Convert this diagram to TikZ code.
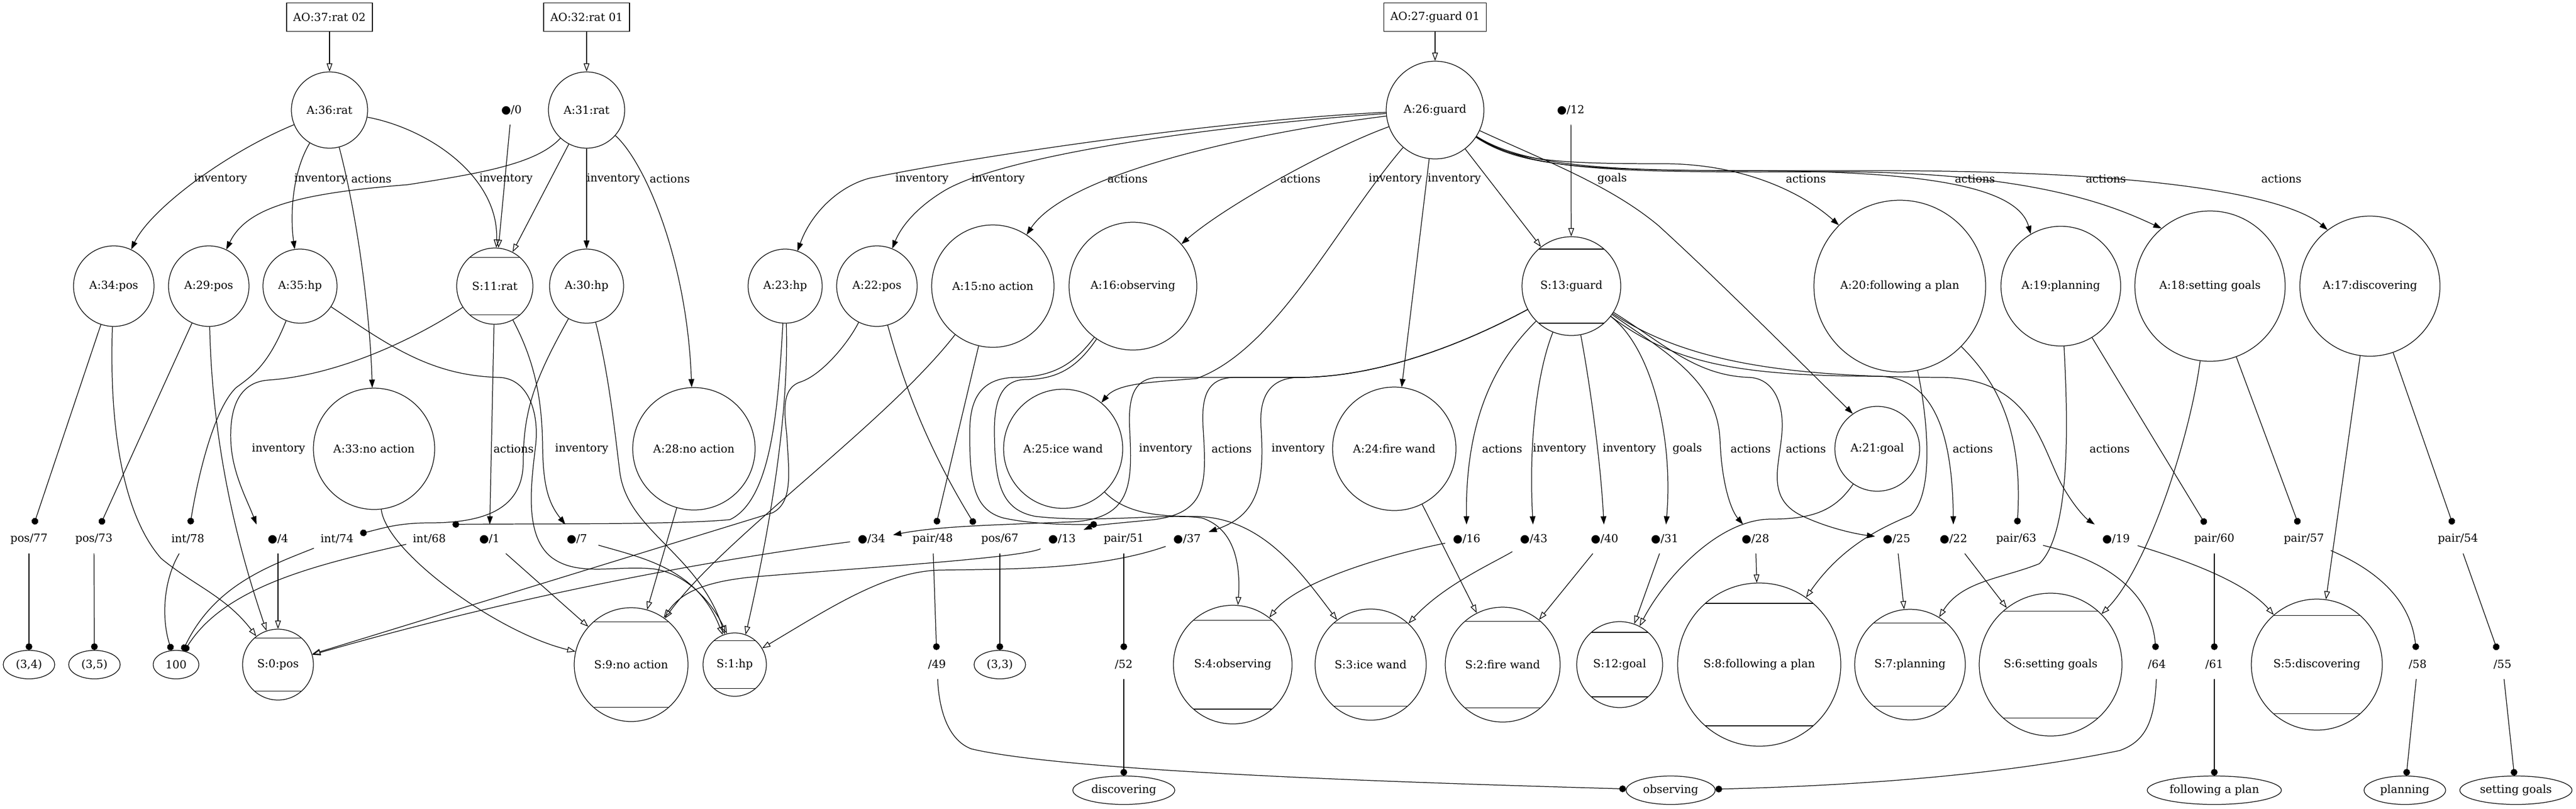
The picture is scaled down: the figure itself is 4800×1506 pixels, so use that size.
\documentclass[tikz,border=0pt]{standalone}
\usepackage{fontspec}
\setmainfont{DejaVu Serif}
\newfontfamily\dvsans{DejaVu Sans}
\usetikzlibrary{arrows.meta,shapes.geometric,calc}
\newcommand{\blkdot}{{\dvsans ●}}
\begin{document}
\begin{tikzpicture}[x=0.5pt,y=-0.5pt,line width=0.62pt,
  every node/.style={font=\fontsize{10.3pt}{12pt}\selectfont, inner sep=0pt},
  cn/.style={draw, circle},
  mc/.style={draw, circle, path picture={
    \draw[line width=0.62pt] ($(path picture bounding box.north west)!0.125!(path picture bounding box.south west)$) -- ($(path picture bounding box.north east)!0.125!(path picture bounding box.south east)$);
    \draw[line width=0.62pt] ($(path picture bounding box.north west)!0.875!(path picture bounding box.south west)$) -- ($(path picture bounding box.north east)!0.875!(path picture bounding box.south east)$);}},
  el/.style={draw, ellipse, minimum height=26.5pt},
  ptx/.style={rectangle, minimum width=39.5pt, minimum height=26.5pt, inner xsep=5.9pt},
  bx/.style={draw, rectangle, minimum height=26.5pt},
  fa/.style={-{Triangle[length=7.6pt,width=5.3pt]}},
  oa/.style={-{Triangle[open,length=7.6pt,width=5.3pt]}},
  da/.style={-{Circle[length=6.3pt]}}
]
\useasboundingbox (0,0) rectangle (4800,1506);
% ---------- row 0
\node[bx, minimum width=80pt] (AO37) at (614,32) {AO:37:rat 02};
\node[bx, minimum width=80pt] (AO32) at (1093,32) {AO:32:rat 01};
\node[bx, minimum width=95.5pt] (AO27) at (2674,32) {AO:27:guard 01};
% ---------- row 1
\node[cn, minimum size=71pt] (A36) at (614,205) {A:36:rat};
\node[cn, minimum size=71pt] (A31) at (1093,205) {A:31:rat};
\node[cn, minimum size=91pt] (A26) at (2674,205) {A:26:guard};
\node[ptx] (d0) at (953,205) {\blkdot/0};
\node[ptx] (d12) at (2927,205) {\blkdot/12};
% ---------- row 2
\node[cn, minimum size=75pt] (A34) at (212,533) {A:34:pos};
\node[cn, minimum size=75pt] (A29) at (389,533) {A:29:pos};
\node[cn, minimum size=69pt] (A35) at (559,533) {A:35:hp};
\node[mc, minimum size=71pt] (S11) at (922,533) {S:11:rat};
\node[cn, minimum size=69pt] (A30) at (1093,533) {A:30:hp};
\node[cn, minimum size=69pt] (A23) at (1463,533) {A:23:hp};
\node[cn, minimum size=75pt] (A22) at (1634,533) {A:22:pos};
\node[cn, minimum size=114pt] (A15) at (1850,533) {A:15:no action};
\node[cn, minimum size=119pt] (A16) at (2111,533) {A:16:observing};
\node[mc, minimum size=92pt] (S13) at (2928,533) {S:13:guard};
\node[cn, minimum size=160pt] (A20) at (3540,533) {A:20:following a plan};
\node[cn, minimum size=111.5pt] (A19) at (3840,533) {A:19:planning};
\node[cn, minimum size=140pt] (A18) at (4118,533) {A:18:setting goals};
\node[cn, minimum size=130.5pt] (A17) at (4416,533) {A:17:discovering};
% ---------- row 3
\node[cn, minimum size=113pt] (A33) at (697,836) {A:33:no action};
\node[cn, minimum size=114pt] (A28) at (1293,836) {A:28:no action};
\node[cn, minimum size=111pt] (A25) at (1981,836) {A:25:ice wand};
\node[cn, minimum size=115pt] (A24) at (2598,836) {A:24:fire wand};
\node[cn, minimum size=79pt] (A21) at (3498,836) {A:21:goal};
% ---------- row 4
\node[ptx] (p77) at (54,1004) {pos/77};
\node[ptx] (p73) at (175,1004) {pos/73};
\node[ptx] (i78) at (350,1004) {int/78};
\node[ptx] (d4) at (518,1004) {\blkdot/4};
\node[ptx] (i74) at (628,1004) {int/74};
\node[ptx] (i68) at (800,1004) {int/68};
\node[ptx] (d1) at (912,1004) {\blkdot/1};
\node[ptx] (d7) at (1075,1004) {\blkdot/7};
\node[ptx] (d34) at (1624,1004) {\blkdot/34};
\node[ptx] (pr48) at (1738,1004) {pair/48};
\node[ptx] (p67) at (1863,1004) {pos/67};
\node[ptx] (d13) at (1979,1004) {\blkdot/13};
\node[ptx] (pr51) at (2094,1004) {pair/51};
\node[ptx] (d37) at (2212,1004) {\blkdot/37};
\node[ptx] (d16) at (2733,1004) {\blkdot/16};
\node[ptx] (d43) at (2858,1004) {\blkdot/43};
\node[ptx] (d40) at (2990,1004) {\blkdot/40};
\node[ptx] (d31) at (3102,1004) {\blkdot/31};
\node[ptx] (d28) at (3271,1004) {\blkdot/28};
\node[ptx] (d25) at (3534,1004) {\blkdot/25};
\node[ptx] (d22) at (3640,1004) {\blkdot/22};
\node[ptx] (pr63) at (3757,1004) {pair/63};
\node[ptx] (d19) at (3943,1004) {\blkdot/19};
\node[ptx] (pr60) at (4126,1004) {pair/60};
\node[ptx] (pr57) at (4293,1004) {pair/57};
\node[ptx] (pr54) at (4580,1004) {pair/54};
% ---------- row 5
\node[el, minimum width=48pt] (v34) at (54,1238) {(3,4)};
\node[el, minimum width=48pt] (v35) at (176,1238) {(3,5)};
\node[el, minimum width=42.6pt] (v100) at (328,1238) {100};
\node[mc, minimum size=66pt] (S0) at (518,1238) {S:0:pos};
\node[mc, minimum size=106pt] (S9) at (1176,1238) {S:9:no action};
\node[mc, minimum size=59pt] (S1) at (1369,1238) {S:1:hp};
\node[ptx] (n49) at (1746,1238) {/49};
\node[el, minimum width=48pt] (v33) at (1863,1238) {(3,3)};
\node[ptx] (n52) at (2094,1238) {/52};
\node[mc, minimum size=110.5pt] (S4) at (2297,1238) {S:4:observing};
\node[mc, minimum size=103.5pt] (S3) at (2554,1238) {S:3:ice wand};
\node[mc, minimum size=107pt] (S2) at (2800,1238) {S:2:fire wand};
\node[mc, minimum size=80pt] (S12) at (3018,1238) {S:12:goal};
\node[mc, minimum size=152pt] (S8) at (3278,1238) {S:8:following a plan};
\node[mc, minimum size=103pt] (S7) at (3559,1238) {S:7:planning};
\node[mc, minimum size=133pt] (S6) at (3821,1238) {S:6:setting goals};
\node[ptx] (n64) at (4019,1238) {/64};
\node[ptx] (n61) at (4126,1238) {/61};
\node[mc, minimum size=122pt] (S5) at (4317,1238) {S:5:discovering};
\node[ptx] (n58) at (4505,1238) {/58};
\node[ptx] (n55) at (4663,1238) {/55};
% ---------- row 6
\node[el, minimum width=95pt] (disc) at (2094,1472) {discovering};
\node[el, minimum width=83pt] (obs) at (3113,1472) {observing};
\node[el, minimum width=125pt] (fap) at (4126,1472) {following a plan};
\node[el, minimum width=76pt] (plan) at (4481,1472) {planning};
\node[el, minimum width=104.5pt] (sg) at (4688,1472) {setting goals};
% ---------- edge labels
\node (la1) at (411,333) {inventory};
\node (la2) at (598,333) {inventory};
\node (la3) at (692,333) {actions};
\node (la4) at (943,333) {inventory};
\node (la5) at (1143,333) {inventory};
\node (la6) at (1248,333) {actions};
\node (la7) at (1718,333) {inventory};
\node (la8) at (1860,333) {inventory};
\node (la9) at (2101,333) {actions};
\node (la10) at (2423,333) {actions};
\node (la11) at (2600,333) {inventory};
\node (la12) at (2710,333) {inventory};
\node (la13) at (3004,333) {goals};
\node (la14) at (3365,333) {actions};
\node (la15) at (3680,333) {actions};
\node (la16) at (3924,333) {actions};
\node (la17) at (4251,333) {actions};
\node (lb1) at (519,836) {inventory};
\node (lb2) at (957,836) {actions};
\node (lb3) at (1084,836) {inventory};
\node (lb4) at (2172,836) {inventory};
\node (lb5) at (2295,836) {actions};
\node (lb6) at (2419,836) {inventory};
\node (lb7) at (2799,836) {actions};
\node (lb8) at (2906,836) {inventory};
\node (lb9) at (3036,836) {inventory};
\node (lb10) at (3144,836) {goals};
\node (lb11) at (3262,836) {actions};
\node (lb12) at (3365,836) {actions};
\node (lb13) at (3676,836) {actions};
\node (lb14) at (3931,836) {actions};
% ---------- edges: top
\draw[oa] (AO37) -- (A36);
\draw[oa] (AO32) -- (A31);
\draw[oa] (AO27) -- (A26);
% A36
\draw[fa] (A36) .. controls (420,285) and (280,390) .. (A34);
\draw[fa] (A36) .. controls (545,320) and (540,400) .. (A35);
\draw[fa] (A36) .. controls (670,420) and (690,600) .. (A33);
\draw[oa] (A36) .. controls (800,240) and (930,330) .. (S11);
% A31
\draw[fa] (A31) .. controls (1000,305) and (900,322) .. (760,344) .. controls (560,360) and (460,385) .. (A29);
\draw[oa] (A31) -- (S11);
\draw[fa] (A31) -- (A30);
\draw[fa] (A31) .. controls (1200,300) and (1280,480) .. (A28);
\draw[oa] (d0) -- (S11);
% A26
\draw[fa] (A26) .. controls (2300,222) and (1850,285) .. (1620,332) .. controls (1560,348) and (1510,400) .. (A23);
\draw[fa] (A26) .. controls (2250,235) and (1870,290) .. (1760,355) .. controls (1710,385) and (1680,420) .. (A22);
\draw[fa] (A26) .. controls (2350,245) and (1990,320) .. (A15);
\draw[fa] (A26) .. controls (2480,275) and (2285,382) .. (A16);
\draw[fa] (A26) .. controls (2490,420) and (2380,650) .. (2230,705) .. controls (2150,712) and (2083,713) .. (A25);
\draw[fa] (A26) -- (A24);
\draw[oa] (A26) -- (S13);
\draw[fa] (A26) .. controls (2880,300) and (3000,345) .. (3090,420) .. controls (3200,520) and (3360,680) .. (A21.125);
\draw[fa] (A26) .. controls (2820,300) and (2900,305) .. (3100,305) .. controls (3250,305) and (3360,360) .. (A20.135);
\draw[fa] (A26) .. controls (2840,310) and (3000,318) .. (3250,318) .. controls (3600,318) and (3760,350) .. (A19.120);
\draw[fa] (A26) .. controls (2850,318) and (3000,322) .. (3400,320) .. controls (3800,318) and (3950,390) .. (A18.130);
\draw[fa] (A26) .. controls (2850,322) and (3000,318) .. (3500,318) .. controls (4100,318) and (4280,380) .. (A17.127);
\draw[oa] (d12) -- (S13);
% row 2 attribute nodes
\draw[da] (A34) -- (p77);
\draw[oa] (A34) .. controls (203,800) and (230,960) .. (300,1040) .. controls (360,1090) and (420,1110) .. (S0);
\draw[da] (A29) -- (p73);
\draw[oa] (A29) .. controls (395,800) and (430,980) .. (S0);
\draw[da] (A35) .. controls (500,680) and (470,700) .. (440,722) .. controls (400,760) and (370,880) .. (i78);
\draw[oa] (A35) .. controls (720,640) and (800,700) .. (930,703) .. controls (985,705) and (1005,770) .. (998,830) .. controls (990,900) and (975,1000) .. (1030,1040) .. controls (1080,1075) and (1150,1052) .. (1220,1060) .. controls (1280,1070) and (1325,1120) .. (S1.104);
\draw[fa] (S11) .. controls (760,640) and (620,700) .. (500,708) .. controls (445,712) and (428,760) .. (430,820) .. controls (432,880) and (460,930) .. (d4.north west);
\draw[fa] (S11) -- (d1);
\draw[fa] (S11) .. controls (995,670) and (1010,740) .. (1011,830) .. controls (1012,900) and (1020,935) .. (d7);
\draw[da] (A30) .. controls (1000,700) and (975,760) .. (975,860) .. controls (975,950) and (900,974) .. (800,974) .. controls (740,974) and (710,985) .. (i74);
\draw[oa] (A30) .. controls (1135,700) and (1145,800) .. (1155,880) .. controls (1170,990) and (1300,1030) .. (S1.108);
\draw[da] (A23) .. controls (1450,750) and (1440,930) .. (1360,968) .. controls (1250,978) and (1000,975) .. (i68.north east);
\draw[oa] (A23) .. controls (1470,760) and (1440,960) .. (S1.70);
\draw[da] (A22) .. controls (1680,700) and (1720,820) .. (p67.north west);
\draw[oa] (A22) .. controls (1580,640) and (1530,700) .. (1490,712) .. controls (1455,725) and (1462,770) .. (1466,810) .. controls (1470,880) and (1478,935) .. (1440,955) -- (S0);
\draw[da] (A15) -- (pr48);
\draw[oa] (A15) .. controls (1650,790) and (1350,1000) .. (S9);
\draw[da] (A16) .. controls (2000,680) and (1960,703) .. (1890,703) .. controls (1830,705) and (1808,740) .. (1807,800) .. controls (1806,900) and (1815,950) .. (1870,965) .. controls (1930,978) and (2000,977) .. (pr51.north west);
\draw[oa] (A16) .. controls (2010,680) and (1975,707) .. (1910,707) .. controls (1870,708) and (1853,740) .. (1853,800) .. controls (1853,900) and (1865,950) .. (1930,962) .. controls (2050,975) and (2180,955) .. (2240,965) .. controls (2300,985) and (2312,1050) .. (S4.85);
% row 3 attribute nodes
\draw[oa] (A33) .. controls (720,1030) and (930,1180) .. (S9);
\draw[oa] (A28) -- (S9);
\draw[oa] (A25) .. controls (2100,960) and (2170,962) .. (2230,962) .. controls (2350,965) and (2420,1060) .. (S3);
\draw[oa] (A24) -- (S2);
\draw[oa] (A21) .. controls (3420,950) and (3380,967) .. (3300,967) .. controls (3200,967) and (3100,1080) .. (S12);
% S13
\draw[fa] (S13) .. controls (2780,612) and (2600,703) .. (2420,703) -- (2160,703) .. controls (2112,704) and (2102,740) .. (2105,800) .. controls (2110,900) and (2110,965) .. (2000,972) .. controls (1850,978) and (1750,980) .. (d34);
\draw[fa] (S13) .. controls (2780,612) and (2600,703) .. (2420,703) -- (2300,703) .. controls (2248,704) and (2238,740) .. (2242,800) .. controls (2248,900) and (2250,955) .. (2150,968) .. controls (2080,975) and (2040,978) .. (d13);
\draw[fa] (S13) .. controls (2780,612) and (2600,703) .. (2420,703) .. controls (2365,704) and (2345,740) .. (2350,800) .. controls (2356,900) and (2345,960) .. (d37);
\draw[fa] (S13) .. controls (2800,660) and (2730,760) .. (d16);
\draw[fa] (S13) .. controls (2865,690) and (2848,820) .. (d43);
\draw[fa] (S13) .. controls (2960,700) and (2982,850) .. (d40);
\draw[fa] (S13) .. controls (3080,650) and (3118,820) .. (d31);
\draw[fa] (S13) .. controls (3110,660) and (3200,710) .. (3205,820) .. controls (3208,900) and (3225,950) .. (d28);
\draw[fa] (S13) .. controls (3100,640) and (3160,700) .. (3260,703) .. controls (3310,706) and (3325,760) .. (3320,810) .. controls (3315,870) and (3290,930) .. (3360,962) .. controls (3410,985) and (3460,995) .. (d25);
\draw[fa] (S13) .. controls (3120,680) and (3250,700) .. (3500,701) .. controls (3600,702) and (3638,800) .. (d22);
\draw[fa] (S13) .. controls (3150,680) and (3350,702) .. (3620,703) .. controls (3780,706) and (3800,820) .. (3840,900) .. controls (3868,950) and (3890,968) .. (d19);
% right action nodes
\draw[oa] (A20) .. controls (3592,780) and (3605,920) .. (3560,960) .. controls (3500,985) and (3430,1020) .. (S8);
\draw[da] (A20) .. controls (3720,710) and (3770,800) .. (pr63);
\draw[da] (A19) -- (pr60);
\draw[oa] (A19) .. controls (3852,760) and (3862,990) .. (3800,1050) .. controls (3730,1078) and (3655,1082) .. (S7);
\draw[da] (A18) -- (pr57);
\draw[oa] (A18) .. controls (4080,820) and (4000,1060) .. (S6);
\draw[da] (A17) -- (pr54);
\draw[oa] (A17) -- (S5);
% row 4 to S nodes
\draw[oa] (d4) -- (S0);
\draw[oa] (d34) .. controls (1350,1040) and (1000,1100) .. (S0);
\draw[oa] (d1) -- (S9);
\draw[oa] (d13) .. controls (1900,1040) and (1600,1058) .. (1400,1075) .. controls (1300,1085) and (1265,1110) .. (S9);
\draw[oa] (d7) .. controls (1200,1040) and (1300,1060) .. (S1.112);
\draw[oa] (d37) .. controls (2050,1060) and (1900,1060) .. (1750,1062) .. controls (1650,1065) and (1550,1130) .. (S1);
\draw[oa] (d16) .. controls (2600,1030) and (2420,1080) .. (S4);
\draw[oa] (d43) .. controls (2780,1050) and (2690,1090) .. (S3);
\draw[oa] (d40) -- (S2);
\draw[oa] (d31) -- (S12);
\draw[oa] (d28) -- (S8);
\draw[oa] (d25) -- (S7);
\draw[oa] (d22) -- (S6);
\draw[oa] (d19) .. controls (4060,1040) and (4180,1080) .. (S5);
% values
\draw[da] (p77) -- (v34);
\draw[da] (p73) -- (v35);
\draw[da] (i78) .. controls (305,1080) and (300,1150) .. (v100);
\draw[da] (i74) .. controls (500,1055) and (400,1090) .. (v100);
\draw[da] (i68) .. controls (600,1050) and (420,1090) .. (v100);
\draw[da] (pr48) -- (n49);
\draw[da] (p67) -- (v33);
\draw[da] (pr51) -- (n52);
\draw[da] (n52) -- (disc);
\draw[da] (pr63) .. controls (3950,1050) and (4010,1120) .. (n64);
\draw[da] (pr60) -- (n61);
\draw[da] (n61) -- (fap);
\draw[da] (pr57) .. controls (4400,1050) and (4490,1100) .. (n58);
\draw[da] (n58) -- (plan);
\draw[da] (pr54) -- (n55);
\draw[da] (n55) -- (sg);
\draw[da] (n49) .. controls (1750,1330) and (1770,1380) .. (1810,1395) .. controls (2000,1440) and (2700,1460) .. (obs);
\draw[da] (n64) .. controls (4015,1340) and (4000,1380) .. (3950,1398) .. controls (3700,1450) and (3400,1465) .. (obs);
\end{tikzpicture}
\end{document}
